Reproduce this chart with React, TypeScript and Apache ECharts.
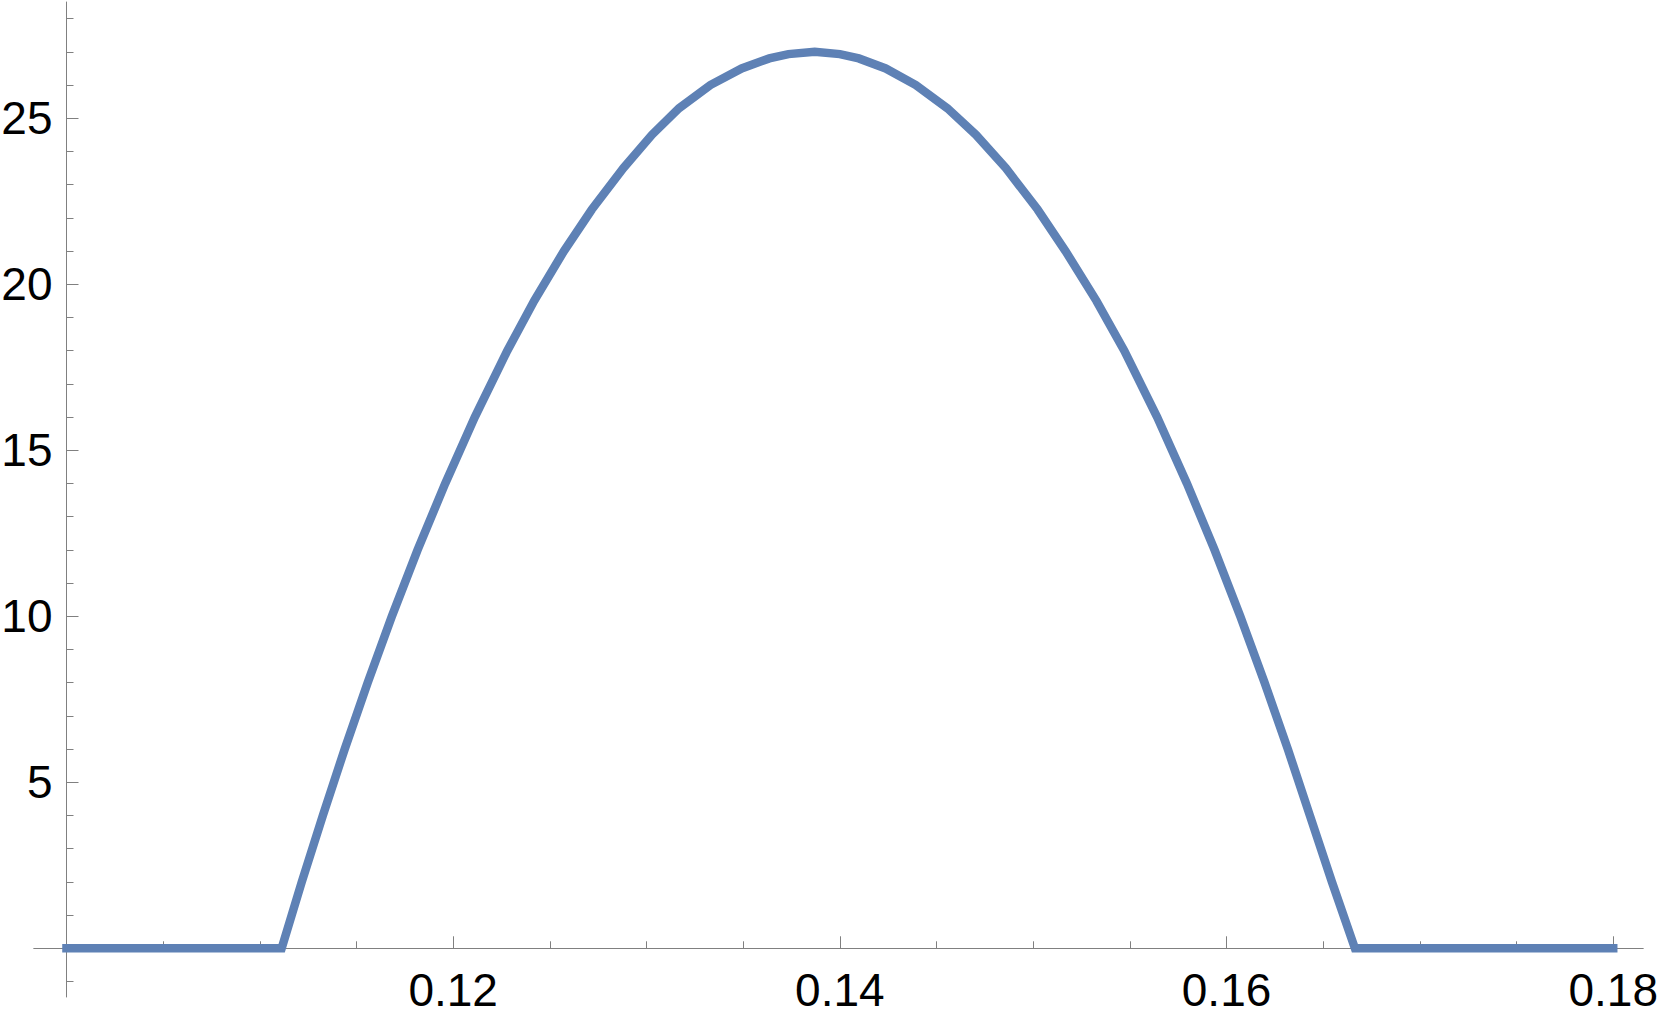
import React, { useEffect, useRef } from "react";
import * as echarts from "echarts";

// Curve samples (smoothed readings)
const xValues = [
  0.1, 0.11113, 0.11217, 0.11326, 0.11439, 0.11558, 0.11683, 0.11816, 0.11959,
  0.12112, 0.1228, 0.12419, 0.12573, 0.12717, 0.12881, 0.13028, 0.13168,
  0.1333, 0.13492, 0.13635, 0.13734, 0.1387, 0.14, 0.14098, 0.14237, 0.14393,
  0.14556, 0.14704, 0.14858, 0.15023, 0.15167, 0.15327, 0.15471, 0.15641,
  0.15795, 0.15938, 0.16071, 0.16197, 0.16317, 0.16431, 0.16545, 0.16664, 0.18,
];
const yValues = [
  0, 0, 2, 4, 6, 8, 10, 12, 14,
  16, 18, 19.5, 21, 22.25, 23.5, 24.5, 25.3,
  26, 26.5, 26.8, 26.93, 27.0, 26.93, 26.8, 26.5, 26,
  25.3, 24.5, 23.5, 22.25, 21, 19.5, 18, 16,
  14, 12, 10, 8, 6, 4, 2, 0, 0,
];

// Axis ranges and ticks
const X_MIN = 0.09832;
const X_MAX = 0.18154;
const Y_MIN = -1.467;
const Y_MAX = 28.5;
const xMajorTicks = [0.12, 0.14, 0.16, 0.18];
const xTickLabels = [0.12, 0.14, 0.16, 0.18];
const xMinorTicks = [
  0.105, 0.11, 0.115, 0.125, 0.13, 0.135, 0.145, 0.15, 0.155, 0.165, 0.17, 0.175,
];
const yMajorTicks = [5, 10, 15, 20, 25];
const yTickLabels = [5, 10, 15, 20, 25];
const yMinorTicks = [
  -1, 1, 2, 3, 4, 6, 7, 8, 9, 11, 12, 13, 14, 16, 17, 18, 19, 21, 22, 23, 24, 26, 27, 28,
];

const AXIS_COLOR = "#808080";
const LINE_COLOR = "#5E81B5";
const FONT = "'Liberation Sans', Arial, sans-serif";

export default function App() {
  const ref = useRef<HTMLDivElement>(null);

  useEffect(() => {
    if (!ref.current) return;
    const chart = echarts.init(ref.current, undefined, { renderer: "svg" });
    const data = xValues.map((x, i) => [x, yValues[i]]);

    const yOffset = -32.5;

    chart.setOption({
      animation: false,
      backgroundColor: "#ffffff",
      grid: {
        left: 34,
        right: 18,
        top: 2,
        bottom: 21,
        containLabel: false,
        outerBoundsMode: "none",
      },
      xAxis: [
        {
          type: "value",
          position: "bottom",
          min: X_MIN,
          max: X_MAX,
          axisLine: { show: true, onZero: true, lineStyle: { color: AXIS_COLOR, width: 1 } },
          axisTick: {
            show: true,
            inside: true,
            length: 12,
            customValues: xMajorTicks,
            lineStyle: { color: AXIS_COLOR, width: 1 },
          },
          axisLabel: {
            show: true,
            customValues: xTickLabels,
            formatter: (v: number) => v.toFixed(2),
            margin: -30.5,
            color: "#000000",
            fontSize: 46,
            fontFamily: FONT,
          },
          splitLine: { show: false },
        },
        {
          type: "value",
          position: "bottom",
          min: X_MIN,
          max: X_MAX,
          axisLine: { show: true, onZero: true, lineStyle: { color: AXIS_COLOR, width: 1 } },
          axisTick: {
            show: true,
            inside: true,
            length: 7,
            customValues: xMinorTicks,
            lineStyle: { color: AXIS_COLOR, width: 1 },
          },
          axisLabel: { show: false },
          splitLine: { show: false },
        },
      ],
      yAxis: [
        {
          type: "value",
          position: "left",
          offset: yOffset,
          min: Y_MIN,
          max: Y_MAX,
          axisLine: { show: true, onZero: false, lineStyle: { color: AXIS_COLOR, width: 1 } },
          axisTick: {
            show: true,
            inside: true,
            length: 12,
            customValues: yMajorTicks,
            lineStyle: { color: AXIS_COLOR, width: 1 },
          },
          axisLabel: {
            show: true,
            customValues: yTickLabels,
            margin: 14,
            color: "#000000",
            fontSize: 46,
            fontFamily: FONT,
          },
          splitLine: { show: false },
        },
        {
          type: "value",
          position: "left",
          offset: yOffset,
          min: Y_MIN,
          max: Y_MAX,
          axisLine: { show: false, onZero: false },
          axisTick: {
            show: true,
            inside: true,
            length: 7,
            customValues: yMinorTicks,
            lineStyle: { color: AXIS_COLOR, width: 1 },
          },
          axisLabel: { show: false },
          splitLine: { show: false },
        },
      ],
      series: [
        {
          type: "line",
          xAxisIndex: 0,
          yAxisIndex: 0,
          data,
          showSymbol: false,
          symbol: "none",
          clip: false,
          lineStyle: { color: LINE_COLOR, width: 8.5, cap: "square", join: "miter" },
          itemStyle: { color: LINE_COLOR },
        },
      ],
    });

    return () => chart.dispose();
  }, []);

  return (
    <div
      ref={ref}
      style={{ position: "absolute", left: 0, top: 0, width: 1661, height: 1018, background: "#fff" }}
    />
  );
}
